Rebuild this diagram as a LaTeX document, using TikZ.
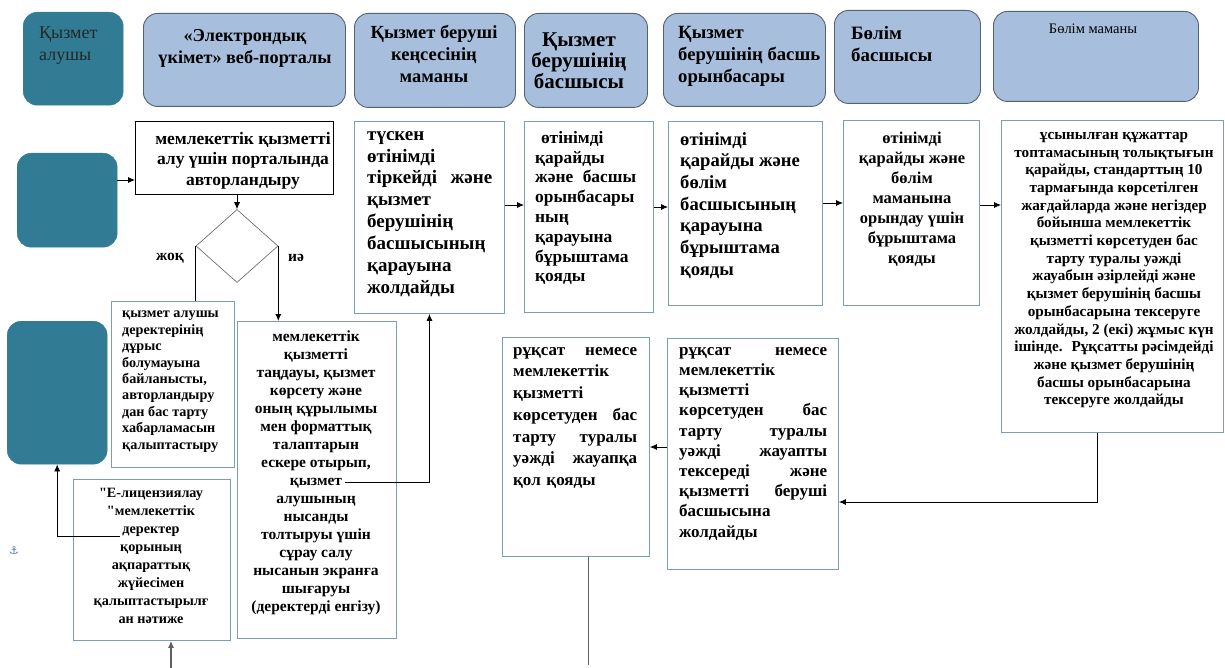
\documentclass[tikz,border=0pt]{standalone}
\usepackage{fontspec}
\setmainfont{Liberation Serif}[Ligatures=TeXOff]
\newfontfamily\symfont{DejaVu Sans}
\usetikzlibrary{shapes.geometric,arrows.meta,positioning}

\definecolor{lanefill}{RGB}{167,191,221}
\definecolor{lanedraw}{RGB}{84,98,114}
\definecolor{actorfill}{RGB}{49,124,148}
\definecolor{boxdraw}{RGB}{122,160,176}
\definecolor{linegray}{RGB}{95,95,95}
\definecolor{anchorblue}{RGB}{70,120,190}

\newcommand\setfs[2]{\fontsize{#1}{#2}\selectfont}

\tikzset{
  lane/.style={draw=lanedraw, fill=lanefill, rounded corners=14pt, line width=0.9pt, anchor=north west, inner sep=0pt},
  actor/.style={fill=actorfill, draw=actorfill, rounded corners=14pt, anchor=north west, inner sep=0pt},
  stepbox/.style={draw=boxdraw, line width=0.9pt, fill=white, anchor=north west, inner sep=0pt},
  txt/.style={inner sep=0pt, text=black},
  arr/.style={-{Latex[length=7pt,width=6pt]}, line width=0.8pt},
}

\begin{document}
\begin{tikzpicture}[x=1pt,y=-1pt]
\useasboundingbox (0,0) rectangle (1225,668);

% header row
\node[actor, minimum width=100, minimum height=93] (h1) at (23,12) {};
\node[txt, anchor=north west, align=left, text=black!85, font=\setfs{18}{22}] (h1t) at (39,27) {Қызмет\\алушы};
\node[lane, minimum width=202, minimum height=93] (h2) at (143,13) {};
\node[txt, anchor=north, align=center, font=\setfs{18.2}{22}\bfseries] (h2t) at (245,29) {«Электрондық\\үкімет» веб-порталы};
\node[lane, minimum width=161, minimum height=94] (h3) at (354,13) {};
\node[txt, anchor=north, align=center, font=\setfs{18.5}{22}\bfseries] (h3t) at (434,25) {Қызмет беруші\\кеңсесінің\\маманы};
\node[lane, minimum width=123, minimum height=94] (h4) at (524,13) {};
\node[txt, anchor=north, align=center, font=\setfs{21}{21}\bfseries] (h4t) at (579,33) {Қызмет\\берушінің\\басшысы};
\node[lane, minimum width=162, minimum height=93] (h5) at (663,13) {};
\node[txt, anchor=north west, align=left, font=\setfs{18.7}{22}\bfseries] (h5t) at (678,26) {Қызмет\\берушінің басшь\\орынбасары};
\node[lane, minimum width=146, minimum height=93] (h6) at (834,10) {};
\node[txt, anchor=north west, align=left, font=\setfs{18.9}{22}\bfseries] (h6t) at (851,26) {Бөлім\\басшысы};
\node[lane, minimum width=205, minimum height=90] (h7) at (993,11) {};
\node[txt, anchor=north, align=center, font=\setfs{14.5}{18}] (h7t) at (1093,24) {Бөлім маманы};

% portal part
\node[actor, minimum width=100, minimum height=94] (a0) at (17,153) {};
\node[stepbox, draw=black, minimum width=198, minimum height=73] (b0) at (135,121) {};
\node[txt, anchor=north, align=center, font=\setfs{17.5}{20.5}\bfseries] (b0t) at (243,132) {мемлекеттік қызметті\\алу үшін порталында\\авторландыру};
\node[diamond, draw=linegray, line width=0.6pt, minimum width=82, minimum height=73, inner sep=0pt] (dec) at (237,246) {};
\node[txt, font=\setfs{15.5}{18}\bfseries] (no) at (170,258) {жоқ};
\node[txt, font=\setfs{15.5}{18}\bfseries] (yes) at (296,258) {иә};

\node[stepbox, minimum width=123, minimum height=166] (c1) at (111,301) {};
\node[txt, anchor=north west, align=left, font=\setfs{14.2}{16.4}\bfseries] (c1t) at (122,311) {қызмет алушы\\деректерінің\\дұрыс\\болумауына\\байланысты,\\авторландыру\\дан бас тарту\\хабарламасын\\қалыптастыру};
\node[stepbox, minimum width=159, minimum height=317] (c2) at (237,321) {};
\node[txt, anchor=north, align=center, font=\setfs{15.5}{18}\bfseries] (c2t) at (316,331) {мемлекеттік\\қызметті\\таңдауы, қызмет\\көрсету және\\оның құрылымы\\мен форматтық\\талаптарын\\ескере отырып,\\қызмет\\алушының\\нысанды\\толтыруы үшін\\сұрау салу\\нысанын экранға\\шығаруы\\(деректерді енгізу)};
\node[actor, minimum width=100, minimum height=143] (a1) at (7,321) {};
\node[stepbox, minimum width=157, minimum height=161] (c3) at (73,479) {};
\node[txt, anchor=north, align=center, font=\setfs{14.2}{18}\bfseries] (c3t) at (151,488) {"Е-лицензиялау\\"мемлекеттік\\деректер\\қорының\\ақпараттық\\жүйесімен\\қалыптастырылғ\\ан нәтиже};
\node[txt, text=anchorblue, font=\symfont\setfs{11}{11}] (anc) at (14,551) {⚓};

% provider part
\node[stepbox, minimum width=150, minimum height=192] (b1) at (354,121) {};
\node[txt, anchor=north west, align=left, text width=125, font=\setfs{19}{21.9}\bfseries] (b1t) at (367,131) {түскен\\өтінімді\\тіркейді \hfill және\\қызмет\\берушінің\\басшысының\\қарауына\\жолдайды};
\node[stepbox, minimum width=129, minimum height=191] (b2) at (524,121) {};
\node[txt, anchor=north west, align=left, text width=101, font=\setfs{17.4}{19.8}\bfseries] (b2t) at (535,131) {\ өтінімді\\қарайды\\және \hfill басшы\\орынбасары\\ның\\қарауына\\бұрыштама\\қояды};
\node[stepbox, minimum width=154, minimum height=184] (b3) at (668,121) {};
\node[txt, anchor=north west, align=left, font=\setfs{18.6}{21.7}\bfseries] (b3t) at (680,132) {өтінімді\\қарайды және\\бөлім\\басшысының\\қарауына\\бұрыштама\\қояды};
\node[stepbox, minimum width=136, minimum height=185] (b4) at (843,120) {};
\node[txt, anchor=north, align=center, font=\setfs{16.5}{20}\bfseries] (b4t) at (912,132) {өтінімді\\қарайды және\\бөлім\\маманына\\орындау үшін\\бұрыштама\\қояды};
\node[stepbox, minimum width=222, minimum height=312] (b5) at (1001,120) {};
\node[txt, anchor=north, align=center, font=\setfs{15.2}{17.7}\bfseries] (b5t) at (1114,132) {ұсынылған құжаттар\\топтамасының толықтығын\\қарайды, стандарттың 10\\тармағында көрсетілген\\жағдайларда және негіздер\\бойынша мемлекеттік\\қызметті көрсетуден бас\\тарту туралы уәжді\\жауабын әзірлейді және\\қызмет берушінің басшы\\орынбасарына тексеруге\\жолдайды, 2 (екі) жұмыс күн\\ішінде.~ Рұқсатты рәсімдейді\\және қызмет берушінің\\басшы орынбасарына\\тексеруге жолдайды};
\node[stepbox, minimum width=171, minimum height=231] (d1) at (667,338) {};
\node[txt, anchor=north west, align=left, text width=148, font=\setfs{17}{20.2}\bfseries] (d1t) at (679,347) {рұқсат \hfill немесе\\мемлекеттік\\қызметті\\көрсетуден \hfill бас\\тарту \hfill туралы\\уәжді \hfill жауапты\\тексереді \hfill және\\қызметті \hfill беруші\\басшысына\\жолдайды};
\node[stepbox, minimum width=147, minimum height=219] (d2) at (502,337) {};
\node[txt, anchor=north west, align=left, text width=124, font=\setfs{17}{21.7}\bfseries] (d2t) at (513,347) {рұқсат \hfill немесе\\мемлекеттік\\қызметті\\көрсетуден \hfill бас\\тарту \hfill туралы\\уәжді \hfill жауапқа\\қол қояды};

% free ends of connectors
\coordinate (q1) at (345,482);
\coordinate (q2) at (120,536);
\coordinate (q3) at (171,668);
\coordinate (q4) at (1097,502);
\coordinate (q5) at (588,665);

% connectors
\draw[arr] (a0.east |- 0,180) -- (b0.west |- 0,180);
\draw[arr] (b0.south -| dec.north) -- (dec.north);
\draw[line width=0.8pt] (dec.west) -- (dec.west |- c1.north);
\draw[arr] (dec.east) -- (dec.east |- c2.north);
\draw[arr] (q1) -| (b1.south);
\draw[arr] (q2) -| (a1.south);
\draw[arr, linegray, line width=1.2pt] (q3) -- (q3 |- c3.south);
\draw[arr] (b1.east |- 0,205) -- (b2.west |- 0,205);
\draw[arr] (b2.east |- 0,207) -- (b3.west |- 0,207);
\draw[arr] (b3.east |- 0,203) -- (b4.west |- 0,203);
\draw[arr] (b4.east |- 0,205) -- (b5.west |- 0,205);
\draw[arr] (b5.south -| q4) -- (q4) -- (q4 -| d1.east);
\draw[arr] (d1.west |- 0,447) -- (d2.east |- 0,447);
\draw[linegray, line width=1pt] (q5 |- d2.south) -- (q5);
\end{tikzpicture}
\end{document}
